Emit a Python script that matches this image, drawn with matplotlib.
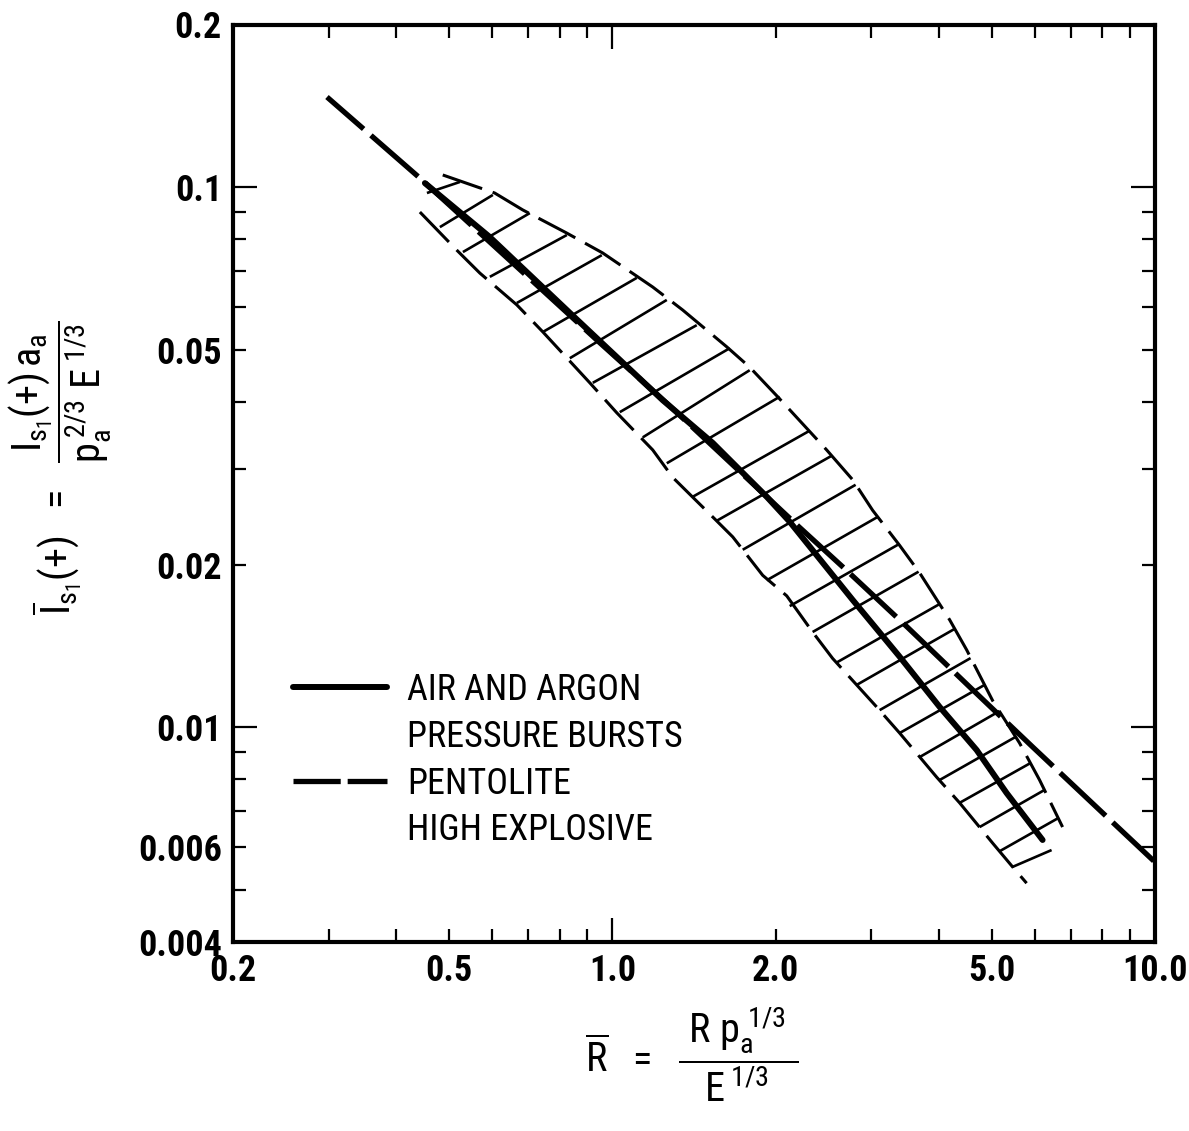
import matplotlib
matplotlib.use('Agg')
import matplotlib.pyplot as plt
from matplotlib.lines import Line2D
from matplotlib.ticker import FixedLocator, FuncFormatter
from matplotlib import font_manager as fm

# ---- pick a condensed sans font that is installed ----
ttf = fm.fontManager.ttflist
names = {f.name for f in ttf}
STRETCH = 'normal'
if 'Liberation Sans Narrow' in names:
    FAMILY = 'Liberation Sans Narrow'
elif 'Roboto Condensed' in names:
    FAMILY = 'Roboto Condensed'
elif any(f.name == 'DejaVu Sans' and 'Condensed' in f.fname for f in ttf):
    FAMILY = 'DejaVu Sans'
    STRETCH = 'condensed'
else:
    FAMILY = 'Liberation Sans'

plt.rcParams['lines.scale_dashes'] = False
plt.rcParams['font.family'] = [FAMILY, 'DejaVu Sans']
plt.rcParams['font.stretch'] = STRETCH
plt.rcParams['mathtext.fontset'] = 'custom'
mt = FAMILY + (':condensed' if STRETCH == 'condensed' else '')
plt.rcParams['mathtext.rm'] = mt
plt.rcParams['mathtext.it'] = mt
plt.rcParams['mathtext.bf'] = mt + ':bold'

# ---------------- data ----------------
# Pentolite high explosive (long-dash curve)
pent_x = [0.298, 0.442, 0.767, 0.948, 1.26, 2.186, 2.703, 3.50, 4.554, 5.949, 7.836, 9.95]
pent_y = [0.1468, 0.1039, 0.0626, 0.0515, 0.0398, 0.0237, 0.0195, 0.0153, 0.01187, 0.00919, 0.00708, 0.00565]

# Air and argon pressure bursts (solid curve)
air_x = [0.4515, 0.5947, 0.8349, 1.2386, 1.5311, 1.9254, 2.1226, 2.7727, 3.3843, 4.0097, 4.6913, 5.3276, 6.2066]
air_y = [0.1017, 0.0808, 0.0585, 0.0403, 0.0336, 0.0267, 0.0240, 0.0172, 0.0135, 0.0109, 0.00907, 0.00755, 0.00618]

# Upper boundary of hatched band
up_x = [0.487, 0.607, 0.684, 0.824, 0.960, 1.187, 1.348, 1.625, 1.791, 2.017, 2.483, 2.773, 3.018,
        3.384, 3.684, 4.184, 4.497, 5.020, 5.630, 6.128, 6.756]
up_y = [0.1053, 0.0975, 0.0907, 0.0822, 0.0755, 0.0653, 0.0592, 0.0506, 0.0464, 0.0409, 0.0326, 0.0287,
        0.0252, 0.0217, 0.0193, 0.0158, 0.0139, 0.0112, 0.00934, 0.00798, 0.00653]

# Lower boundary of hatched band
lo_x = [0.442, 0.517, 0.570, 0.667, 0.745, 0.909, 1.019, 1.187, 1.292, 1.531, 1.667, 1.893, 2.096,
        2.339, 2.547, 3.069, 3.384, 3.959, 4.365, 5.020, 5.465, 5.800]
lo_y = [0.0899, 0.0764, 0.0693, 0.0605, 0.0539, 0.0434, 0.0382, 0.0326, 0.0290, 0.0245, 0.0225, 0.0191,
        0.0175, 0.0150, 0.0134, 0.0109, 0.00975, 0.00808, 0.00724, 0.00610, 0.00551, 0.00514]

# Hatch rungs (start point on the lower side, end point on the upper side)
rung_x0 = [0.4554, 0.4811, 0.5305, 0.5947, 0.6668, 0.7445, 0.8349, 0.9204, 1.0321, 1.1380, 1.2600, 1.4066,
           1.557, 1.7389, 1.9254, 2.1226, 2.3393, 2.5905, 2.8199, 3.1087, 3.3843, 3.6837, 4.0097, 4.3647,
           4.7512, 5.1718, 5.4652]
rung_y0 = [0.0975, 0.0843, 0.0758, 0.0682, 0.0610, 0.0539, 0.0482, 0.0434, 0.0383, 0.0344, 0.0308, 0.0267,
           0.0241, 0.0213, 0.0187, 0.01675, 0.0150, 0.01317, 0.01197, 0.01075, 0.00975, 0.00880, 0.00798,
           0.00724, 0.00653, 0.00589, 0.00551]
rung_x1 = [0.5237, 0.6024, 0.7047, 0.8244, 0.9563, 1.1093, 1.2600, 1.4306, 1.6455, 1.7912, 2.0344, 2.3003,
           2.536, 2.8075, 3.0828, 3.3694, 3.6675, 4.0097, 4.273, 4.5726, 4.8522, 5.1718, 5.5349, 5.8972,
           6.2594, 6.6424, 6.4482]
rung_y1 = [0.1022, 0.0967, 0.0895, 0.0815, 0.0748, 0.0679, 0.0618, 0.0555, 0.0503, 0.0458, 0.0409, 0.0353,
           0.0318, 0.0281, 0.0245, 0.0218, 0.0194, 0.0169, 0.0152, 0.01342, 0.01197, 0.01071, 0.00959,
           0.00858, 0.00765, 0.00679, 0.00592]

x_major = [1.0, 10.0]
x_minor = [0.2, 0.3, 0.4, 0.5, 0.6, 0.7, 0.8, 0.9, 2, 3, 4, 5, 6, 7, 8, 9]
x_labels = {0.2: '0.2', 0.5: '0.5', 1.0: '1.0', 2.0: '2.0', 5.0: '5.0', 10.0: '10.0'}
y_major = [0.01, 0.1]
y_minor = [0.004, 0.005, 0.006, 0.007, 0.008, 0.009, 0.02, 0.03, 0.04, 0.05, 0.06, 0.07, 0.08, 0.09, 0.2]
y_labels = {0.004: '0.004', 0.006: '0.006', 0.01: '0.01', 0.02: '0.02', 0.05: '0.05', 0.1: '0.1', 0.2: '0.2'}

legend_labels = ['AIR AND ARGON', 'PRESSURE BURSTS', 'PENTOLITE', 'HIGH EXPLOSIVE']

# ---------------- figure ----------------
W, H = 1189, 1131
fig = plt.figure(figsize=(W / 100, H / 100), dpi=100)
L, R, T, B = 233, 1155, 24.5, 942
ax = fig.add_axes([L / W, 1 - B / H, (R - L) / W, (B - T) / H])
ax.set_xscale('log')
ax.set_yscale('log')
ax.set_xlim(0.2, 10)
ax.set_ylim(0.004, 0.2)

for s in ax.spines.values():
    s.set_linewidth(3.0)

# hatch rungs
for x0, y0, x1, y1 in zip(rung_x0, rung_y0, rung_x1, rung_y1):
    ax.plot([x0, x1], [y0, y1], color='k', lw=1.9, solid_capstyle='butt', zorder=2)

# band boundaries
ax.plot(up_x, up_y, color='k', lw=2.2, linestyle=(0, (30, 8)), zorder=2)
ax.plot(lo_x, lo_y, color='k', lw=2.2, linestyle=(0, (30, 8)), zorder=2)

# curves
ax.plot(air_x, air_y, color='k', lw=4.3, solid_capstyle='round', solid_joinstyle='round', zorder=3)
ax.plot(pent_x, pent_y, color='k', lw=3.8, linestyle=(10, (45, 7)), zorder=3)

# ticks
ax.xaxis.set_major_locator(FixedLocator(x_major))
ax.xaxis.set_minor_locator(FixedLocator(x_minor))
ax.yaxis.set_major_locator(FixedLocator(y_major))
ax.yaxis.set_minor_locator(FixedLocator(y_minor))


def fx(v, pos):
    for k, s in x_labels.items():
        if abs(v - k) < 1e-9 * max(1, k):
            return s
    return ''


def fy(v, pos):
    for k, s in y_labels.items():
        if abs(v - k) < 1e-12 + 1e-6 * k:
            return s
    return ''


for axis, f in ((ax.xaxis, fx), (ax.yaxis, fy)):
    axis.set_major_formatter(FuncFormatter(f))
    axis.set_minor_formatter(FuncFormatter(f))

ax.tick_params(which='both', direction='in', top=True, right=True, width=1.6,
               labelsize=26, pad=8)
ax.tick_params(which='major', length=17)
ax.tick_params(which='minor', length=9.5)
for lab in ax.get_xticklabels(which='both') + ax.get_yticklabels(which='both'):
    lab.set_fontweight('bold')
    lab.set_fontstretch(STRETCH)

# legend
h_solid = Line2D([], [], color='k', lw=4.3, solid_capstyle='round')
h_dash = Line2D([], [], color='k', lw=3.8, linestyle=(0, (34, 5)))
h_none = Line2D([], [], color='none', lw=0)
ax.legend([h_solid, h_none, h_dash, h_none], legend_labels,
          loc='upper left', bbox_to_anchor=((293 - L) / (R - L), (B - 672) / (B - T)),
          frameon=False, fontsize=26, handlelength=2.6, handletextpad=0.55,
          labelspacing=0.3, borderpad=0, borderaxespad=0)

# axis labels
fig.text(60 / W, 1 - 468 / H,
         r'$\overline{I}_{s_1}(+)\ \ =\ \ \dfrac{\ I_{s_1}(+)\,a_a\ }{p_a^{\,2/3}\ E^{\,1/3}}$',
         rotation=90, ha='center', va='center', fontsize=29)
fig.text(692 / W, 1 - 1055 / H,
         r'$\overline{R}\ \ =\ \ \dfrac{\ R\ p_a^{\;1/3}\ }{E^{\,1/3}}$',
         ha='center', va='center', fontsize=29)

fig.savefig('out.png', dpi=100)
